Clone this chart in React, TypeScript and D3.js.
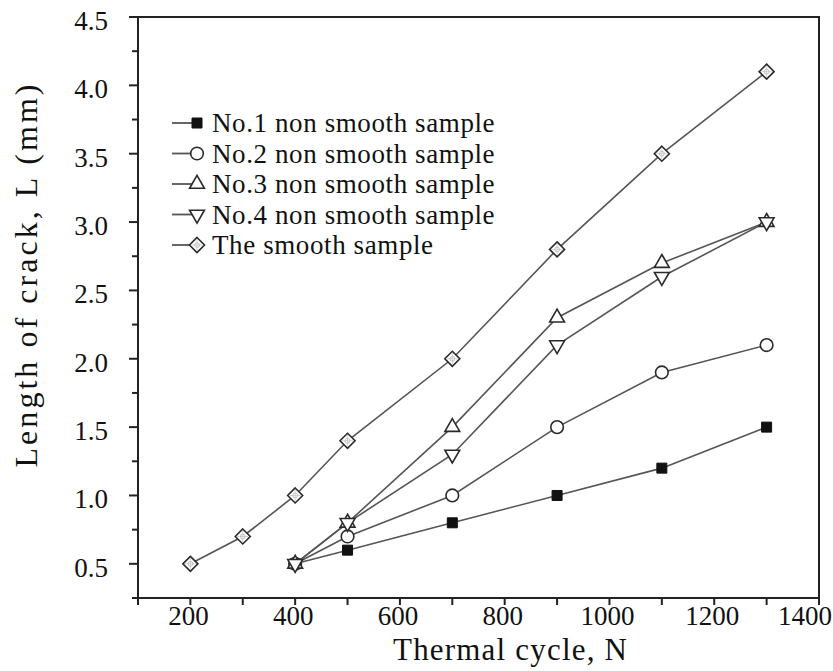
import * as d3 from "d3";

// data
const CYCLES = [400, 500, 700, 900, 1100, 1300];
const SMOOTH_CYCLES = [200, 300, 400, 500, 700, 900, 1100, 1300];

const NO1 = [0.5, 0.6, 0.8, 1.0, 1.2, 1.5];
const NO2 = [0.5, 0.7, 1.0, 1.5, 1.9, 2.1];
const NO3 = [0.5, 0.8, 1.5, 2.3, 2.7, 3.0];
const NO4 = [0.5, 0.8, 1.3, 2.1, 2.6, 3.0];
const SMOOTH = [0.5, 0.7, 1.0, 1.4, 2.0, 2.8, 3.5, 4.1];

const SERIES_NAMES = [
  "No.1 non smooth sample",
  "No.2 non smooth sample",
  "No.3 non smooth sample",
  "No.4 non smooth sample",
  "The smooth sample",
];
const MARKERS = ["square", "circle", "up", "down", "diamond"];

const X_TICK_LABELS = [200, 400, 600, 800, 1000, 1200, 1400];
const Y_TICK_LABELS = ["0.5", "1.0", "1.5", "2.0", "2.5", "3.0", "3.5", "4.0", "4.5"];

const WIDTH = 833;
const HEIGHT = 671;
const BOX = { left: 138, right: 819, top: 17, bottom: 598 };
const SERIF = {
  fontFamily:
    "'Liberation Serif', Tinos, 'Times New Roman', Times, 'Noto Serif', 'DejaVu Serif', FreeSerif, Georgia, serif",
};

const LINE_COLOR = "#555";
const MARK_COLOR = "#2a2a2a";

const Marker = ({ kind, x, y }: { kind: string; x: number; y: number }) => {
  if (kind === "square") {
    const p = d3.symbol().type(d3.symbolSquare).size(100)();
    return <path d={p} transform={`translate(${x},${y})`} fill="#111" stroke="#111" strokeWidth={1} />;
  }
  if (kind === "circle") {
    const p = d3.symbol().type(d3.symbolCircle).size(125)();
    return <path d={p} transform={`translate(${x},${y})`} fill="white" stroke={MARK_COLOR} strokeWidth={1.6} />;
  }
  if (kind === "up" || kind === "down") {
    const p = d3.symbol().type(d3.symbolTriangle).size(95)();
    const rot = kind === "down" ? 180 : 0;
    return (
      <path d={p} transform={`translate(${x},${y}) rotate(${rot})`} fill="white" stroke={MARK_COLOR} strokeWidth={1.6} />
    );
  }
  // diamond with a cross inside (smooth sample)
  const r = 7.5;
  return (
    <g transform={`translate(${x},${y})`}>
      <path d={`M0,${-r}L${r},0L0,${r}L${-r},0Z`} fill="white" stroke={MARK_COLOR} strokeWidth={1.6} />
      <circle r={2.4} fill="none" stroke="#aaa" strokeWidth={0.7} />
      <path d={`M0,${-r + 2}V${r - 2}M${-r + 2},0H${r - 2}`} stroke="#b5b5b5" strokeWidth={0.6} />
    </g>
  );
};

export default function App() {
  const xScale = d3.scaleLinear().domain([100, 1400]).range([BOX.left, BOX.right]);
  const yScale = d3.scaleLinear().domain([0.25, 4.5]).range([BOX.bottom, BOX.top]);

  const series = [
    { xs: CYCLES, ys: NO1 },
    { xs: CYCLES, ys: NO2 },
    { xs: CYCLES, ys: NO3 },
    { xs: CYCLES, ys: NO4 },
    { xs: SMOOTH_CYCLES, ys: SMOOTH },
  ];

  const line = d3
    .line<[number, number]>()
    .x((d) => xScale(d[0]))
    .y((d) => yScale(d[1]));

  const xMinor = d3.range(100, 1401, 100);
  const yAll = d3.range(0.25, 4.51, 0.25);

  return (
    <svg width={WIDTH} height={HEIGHT} style={{ position: "absolute", left: 0, top: 0, background: "white" }}>
      {/* frame */}
      <rect
        x={BOX.left}
        y={BOX.top}
        width={BOX.right - BOX.left}
        height={BOX.bottom - BOX.top}
        fill="none"
        stroke="#222"
        strokeWidth={2}
      />

      {/* y ticks */}
      {yAll.map((v, i) => {
        const major = i % 2 === 1;
        return (
          <line
            key={"yt" + i}
            x1={BOX.left - (major ? 9 : 6)}
            x2={BOX.left}
            y1={yScale(v)}
            y2={yScale(v)}
            stroke="#222"
            strokeWidth={2}
          />
        );
      })}
      {Y_TICK_LABELS.map((t) => (
        <text
          key={"yl" + t}
          x={108}
          y={yScale(+t) + 4}
          textAnchor="end"
          dominantBaseline="central"
          style={SERIF}
          fontSize={27}
          fill="#111"
        >
          {t}
        </text>
      ))}

      {/* x ticks */}
      {xMinor.map((v) => (
        <line key={"xt" + v} x1={xScale(v)} x2={xScale(v)} y1={BOX.bottom} y2={BOX.bottom + 7} stroke="#222" strokeWidth={2} />
      ))}
      {X_TICK_LABELS.map((v) => {
        const last = v === 1400;
        return (
          <text
            key={"xl" + v}
            x={last ? WIDTH - 1 : xScale(v) - 2}
            y={625}
            textAnchor={last ? "end" : "middle"}
            style={SERIF}
            fontSize={27}
            fill="#111"
          >
            {v}
          </text>
        );
      })}

      {/* axis titles */}
      <text x={510} y={660} textAnchor="middle" style={SERIF} fontSize={31} fill="#111" textLength={234} lengthAdjust="spacing">
        Thermal cycle, N
      </text>
      <text
        transform="translate(37,276) rotate(-90)"
        textAnchor="middle"
        style={SERIF}
        fontSize={32}
        fill="#111"
        textLength={383}
        lengthAdjust="spacing"
      >
        Length of crack, L (mm)
      </text>

      {/* lines */}
      {series.map((s, i) => (
        <path
          key={"ln" + i}
          d={line(s.xs.map((x, j) => [x, s.ys[j]] as [number, number])) || ""}
          fill="none"
          stroke={LINE_COLOR}
          strokeWidth={1.6}
        />
      ))}
      {/* markers */}
      {series.map((s, i) =>
        s.xs.map((x, j) => <Marker key={"mk" + i + "-" + j} kind={MARKERS[i]} x={xScale(x)} y={yScale(s.ys[j])} />)
      )}

      {/* legend */}
      {SERIES_NAMES.map((name, i) => {
        const ly = 123 + i * 30.5;
        return (
          <g key={"lg" + i}>
            <line x1={172} x2={197} y1={ly} y2={ly} stroke={LINE_COLOR} strokeWidth={1.8} />
            <Marker kind={MARKERS[i]} x={197} y={ly} />
            <text
              x={212}
              y={ly}
              dominantBaseline="central"
              style={{ ...SERIF, letterSpacing: "0.6px" }}
              fontSize={27}
              fill="#111"
            >
              {name}
            </text>
          </g>
        );
      })}
    </svg>
  );
}
